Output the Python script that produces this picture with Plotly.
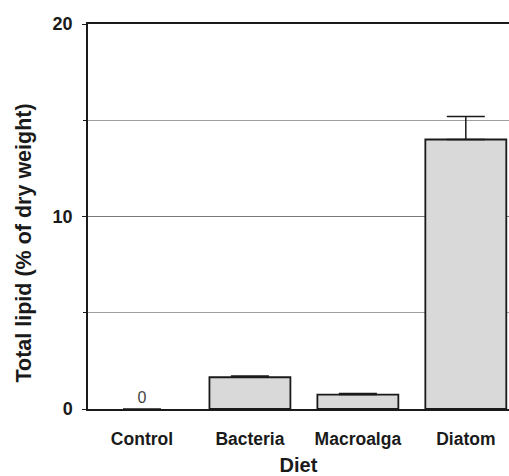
import plotly.graph_objects as go

diets = ["Control", "Bacteria", "Macroalga", "Diatom"]
lipid = [0.0, 1.65, 0.75, 14.0]
err_up = [0.0, 0.07, 0.06, 1.2]
bar_text = ["0", "", "", ""]
y_ticks = [0, 10, 20]

FONT = "Liberation Sans, Arial, sans-serif"

fig = go.Figure()
fig.add_trace(go.Bar(
    x=diets, y=lipid,
    width=0.75,
    marker=dict(color="#d9d9d9", line=dict(color="#1a1a1a", width=[0, 1.8, 1.8, 1.8])),
    error_y=dict(type="data", symmetric=False, array=err_up,
                 arrayminus=[0, 0, 0, 0], color="#1a1a1a", thickness=1.5, width=19),
    text=bar_text, textposition="outside",
    textfont=dict(family=FONT, size=16, color="#444"),
    cliponaxis=False,
))

fig.update_layout(
    width=509, height=476,
    margin=dict(l=88, r=0, t=24, b=67),
    plot_bgcolor="white", paper_bgcolor="white",
    showlegend=False,
    font=dict(family=FONT, color="#1a1a1a"),
    xaxis=dict(
        range=[-0.5, 3.4],
        automargin=False,
        showline=True, linecolor="#1a1a1a", linewidth=1.5, mirror=True,
        ticks="", showgrid=False,
        tickfont=dict(size=17.5, weight="bold"),
        ticklabelstandoff=13,
        title=dict(text="Diet", font=dict(size=20, weight="bold"), standoff=14),
    ),
    yaxis=dict(
        range=[0, 20],
        automargin=False,
        tickvals=y_ticks,
        ticks="outside", ticklen=4, tickcolor="#1a1a1a",
        showline=True, linecolor="#1a1a1a", linewidth=1.5,
        showgrid=True, gridcolor="#7a7a7a", gridwidth=1,
        minor=dict(dtick=5, showgrid=True, gridcolor="#a0a0a0", gridwidth=1,
                   ticks="outside", ticklen=3, tickcolor="#1a1a1a"),
        tickfont=dict(size=18, weight="bold"),
        ticklabelstandoff=6,
        zeroline=False,
    ),
    annotations=[dict(
        text="Total lipid (% of dry weight)", textangle=-90,
        xref="paper", yref="paper", x=-0.152, y=0.43,
        xanchor="center", yanchor="middle", showarrow=False,
        font=dict(size=21.5, weight="bold"),
    )],
)

fig.write_html("out.html", config={"displayModeBar": False},
               post_script="document.body.style.margin='0';")
